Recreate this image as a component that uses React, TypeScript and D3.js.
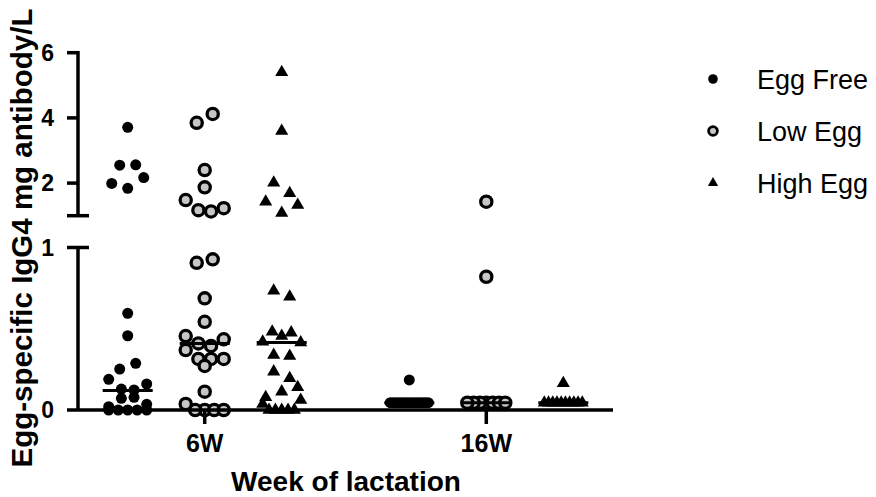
import React from 'react';
import * as d3 from 'd3';

// ---- data (mg/L) ----
const weeks = ['6W', '16W'];
const groups = ['Egg Free', 'Low Egg', 'High Egg'];

const eggFree6W = [3.71, 2.55, 2.56, 1.84, 1.99, 2.17, 0.595, 0.457, 0.252, 0.287, 0.129, 0.123, 0.189, 0.16,
  0.072, 0.078, 0.02, 0.035, 0, 0, 0, 0, 0];
const lowEgg6W = [3.85, 4.12, 2.4, 1.87, 1.17, 1.13, 1.48, 1.23, 0.906, 0.927, 0.687, 0.543, 0.41, 0.394, 0.455,
  0.435, 0.314, 0.314, 0.369, 0.314, 0.271, 0.113, 0, 0, 0, 0.037, 0];
const highEgg6W = [5.4, 3.6, 2.01, 1.69, 1.08, 1.43, 1.33, 0.734, 0.697, 0.455, 0.482, 0.476, 0.42, 0.415, 0.338,
  0.332, 0.236, 0.195, 0.113, 0.078, 0.14, 0, 0, 0, 0, 0, 0.037, 0.062];

const eggFree16W = [0.185, 0.045, 0.045, 0.045, 0.045, 0.045, 0.045, 0.045, 0.045, 0.045, 0.045, 0.045, 0.045,
  0.045, 0.045];
const lowEgg16W = [1.43, 0.82, 0.045, 0.045, 0.045, 0.045, 0.045, 0.045, 0.045];
const highEgg16W = [0.164, 0.045, 0.045, 0.045, 0.045, 0.045, 0.045, 0.045, 0.045, 0.045, 0.045];

const medians6W = [0.12, 0.41, 0.415];
const medians16W = [0.045, 0.045, 0.045];

const yTicksUpper = [2, 4, 6];
const yTicksLower = [0, 1];

const columns = [
  { week: '6W', values: [eggFree6W, lowEgg6W, highEgg6W], medians: medians6W },
  { week: '16W', values: [eggFree16W, lowEgg16W, highEgg16W], medians: medians16W },
];

// ---- layout ----
const W = 876;
const H = 497;
const axisX = 78;
const axisRight = 613;
const font = '"Liberation Sans", Arial, Helvetica, sans-serif';

const yLower = d3.scaleLinear().domain([0, 1]).range([410, 247.5]);
const yUpper = d3.scaleLinear().domain([1, 6]).range([215.7, 52.7]);
const yPix = (v: number) => (v <= 1 ? yLower(v) : yUpper(v));

const xWeek = d3.scalePoint<string>().domain(weeks).range([axisX, axisRight]).padding(0.45);
const xGroup = d3.scalePoint<string>().domain(groups).range([-77, 77]);

const ROW_H = 12;
const SPACING = 16;
const MAX_W = 38;

// prism-like scatter: bin points in horizontal rows, spread each row around the centre
function swarm(values: number[], cx: number) {
  const pts = values.map((v, i) => ({ v, i, y: yPix(v), x: cx }));
  const sorted = [...pts].sort((a, b) => a.y - b.y);
  const rows: { y0: number; pts: typeof pts }[] = [];
  let cur: { y0: number; pts: typeof pts } | null = null;
  for (const p of sorted) {
    if (!cur || p.y - cur.y0 > ROW_H) {
      cur = { y0: p.y, pts: [] };
      rows.push(cur);
    }
    cur.pts.push(p);
  }
  rows.forEach(r => {
    r.pts.sort((a, b) => a.i - b.i);
    const n = r.pts.length;
    const s = n > 1 ? Math.min(SPACING, MAX_W / (n - 1)) : 0;
    r.pts.forEach((p, k) => {
      let slot;
      if (n % 2 === 1) slot = k === 0 ? 0 : Math.ceil(k / 2) * (k % 2 === 1 ? -1 : 1);
      else slot = (Math.floor(k / 2) + 0.5) * (k % 2 === 0 ? -1 : 1);
      p.x = cx + slot * s;
    });
  });
  return pts;
}

const triPath = d3.symbol(d3.symbolTriangle, 74)() as string;
const triLegend = d3.symbol(d3.symbolTriangle, 46)() as string;

function Marker({ g, x, y, legend = false }: { g: number; x: number; y: number; legend?: boolean }) {
  if (g === 0) return <circle cx={x} cy={y} r={legend ? 4.8 : 5.5} fill="#000" />;
  if (g === 1)
    return <circle cx={x} cy={y} r={legend ? 4.4 : 5.6} fill="#c6c6c6" stroke="#000" strokeWidth={legend ? 2.8 : 3.3} />;
  return <path d={legend ? triLegend : triPath} transform={`translate(${x},${y})`} fill="#000" />;
}

export default function App() {
  const sw = 3.5;
  return (
    <svg width={W} height={H} style={{ position: 'absolute', left: 0, top: 0, background: '#fff' }} fontFamily={font}>
      {/* points */}
      {columns.map(col =>
        col.values.map((vals, g) => {
          const cx = (xWeek(col.week) as number) + (xGroup(groups[g]) as number);
          return (
            <g key={col.week + g}>
              {swarm(vals, cx).map((p, i) => (
                <Marker key={i} g={g} x={p.x} y={p.y} />
              ))}
            </g>
          );
        })
      )}
      {/* medians */}
      {columns.map(col =>
        col.medians.map((m, g) => {
          const cx = (xWeek(col.week) as number) + (xGroup(groups[g]) as number);
          return <line key={col.week + 'm' + g} x1={cx - 25} x2={cx + 25} y1={yPix(m)} y2={yPix(m)} stroke="#000" strokeWidth={3} />;
        })
      )}

      {/* y axis, upper segment */}
      <g stroke="#000" strokeWidth={sw}>
        <line x1={axisX} x2={axisX} y1={yUpper(6) - sw / 2} y2={yUpper(1)} />
        <line x1={axisX - 11} x2={axisX + 11} y1={yUpper(1)} y2={yUpper(1)} />
        {yTicksUpper.map(t => (
          <line key={t} x1={axisX - 11} x2={axisX} y1={yUpper(t)} y2={yUpper(t)} />
        ))}
        {/* lower segment */}
        <line x1={axisX} x2={axisX} y1={yLower(1)} y2={yLower(0)} />
        <line x1={axisX - 11} x2={axisX + 11} y1={yLower(1)} y2={yLower(1)} />
        <line x1={axisX - 11} x2={axisRight} y1={yLower(0)} y2={yLower(0)} />
        {weeks.map(w => (
          <line key={w} x1={xWeek(w)} x2={xWeek(w)} y1={yLower(0)} y2={yLower(0) + 14} />
        ))}
      </g>
      <g fontWeight="bold" fontSize={23} textAnchor="end" fill="#000">
        {yTicksUpper.map(t => (
          <text key={t} x={axisX - 24} y={yUpper(t)} dy="0.36em">{t}</text>
        ))}
        {yTicksLower.map(t => (
          <text key={t} x={axisX - 24} y={yLower(t)} dy="0.36em">{t}</text>
        ))}
      </g>
      <g fontWeight="bold" fontSize={25} textAnchor="middle" fill="#000">
        {weeks.map(w => (
          <text key={w} x={xWeek(w)} y={452}>{w}</text>
        ))}
      </g>

      {/* axis titles */}
      <text x={346} y={491} textAnchor="middle" fontWeight="bold" fontSize={28}>Week of lactation</text>
      <text transform="translate(32,238) rotate(-90)" textAnchor="middle" fontWeight="bold" fontSize={29.5}>
        Egg-specific IgG4 mg antibody/L
      </text>

      {/* legend */}
      {groups.map((name, g) => (
        <g key={name}>
          <Marker g={g} x={713} y={79 + g * 52} legend />
          <text x={757} y={79 + g * 52} dy="0.36em" fontSize={27}>{name}</text>
        </g>
      ))}
    </svg>
  );
}
